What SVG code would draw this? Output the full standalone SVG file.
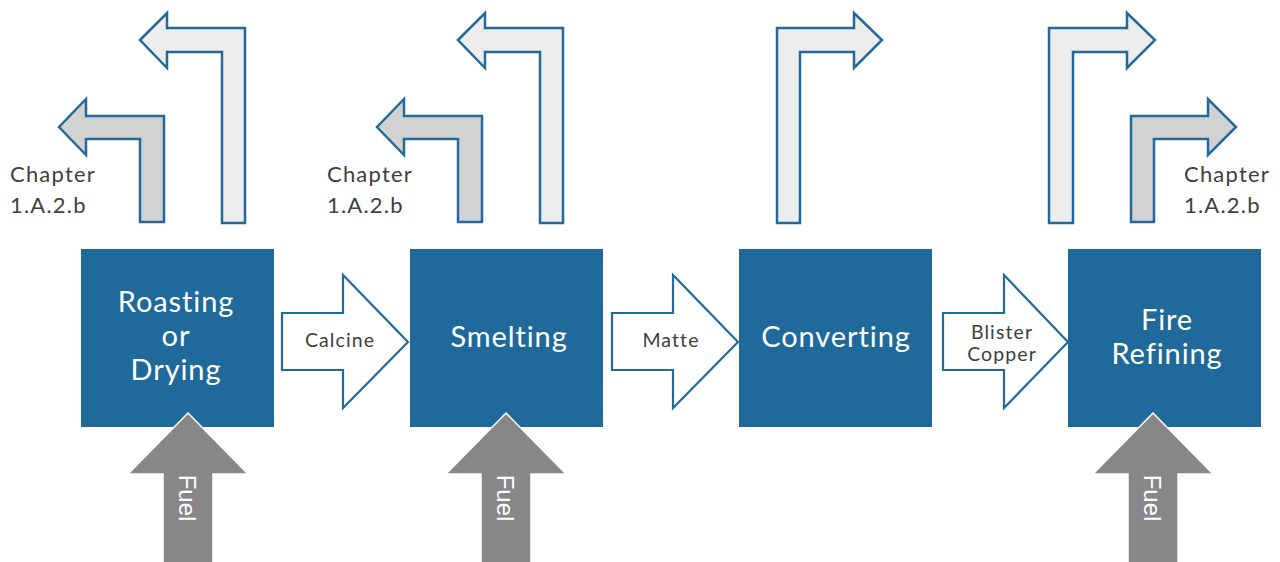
<svg xmlns="http://www.w3.org/2000/svg" width="1280" height="562" viewBox="0 0 1280 562">
<style>
text{font-variant-ligatures:none;font-feature-settings:"liga" 0}
.box{fill:#1F6A9A}
.boxt{fill:#FFFFFF;font-family:Lato,"Noto Sans",sans-serif;font-size:29px;letter-spacing:0.9px;text-anchor:middle}
.lt{fill:#EDEDED;stroke:#236A9A;stroke-width:2.5;stroke-linejoin:miter}
.dk{fill:#D2D2D2;stroke:#236A9A;stroke-width:2.5;stroke-linejoin:miter}
.flow{fill:#FFFFFF;stroke:#236A9A;stroke-width:2.2}
.flowt{fill:#404040;font-family:Lato,"Noto Sans",sans-serif;font-size:19.5px;letter-spacing:1.1px;text-anchor:middle}
.ch{fill:#404040;font-family:Lato,"Noto Sans",sans-serif;font-size:22px;letter-spacing:1.2px}
.fuel{fill:#878787;stroke:#FFFFFF;stroke-width:1.5}
.fuelt{fill:#FFFFFF;font-family:"Liberation Sans",Arial,sans-serif;font-size:24px;text-anchor:middle}
</style>
<rect width="1280" height="562" fill="#FFFFFF"/>

<g id="connectors">
  <path class="lt" d="M140,40 L167,13 L167,28 L245,28 L245,223 L222,223 L222,52 L167,52 L167,68 Z"/>
  <path class="dk" d="M59,127 L86,99 L86,116 L164,116 L164,222 L140,222 L140,139 L86,139 L86,155 Z"/>
  <path class="lt" d="M458,40 L485,13 L485,28 L563,28 L563,223 L540,223 L540,52 L485,52 L485,68 Z"/>
  <path class="dk" d="M377,127 L404,99 L404,116 L482,116 L482,222 L458,222 L458,139 L404,139 L404,155 Z"/>
  <path class="lt" d="M777,223 L777,28 L854,28 L854,13 L882,40 L854,68 L854,52 L800,52 L800,223 Z"/>
  <path class="lt" d="M1049,223 L1049,28 L1127,28 L1127,13 L1155,40 L1127,68 L1127,52 L1073,52 L1073,223 Z"/>
  <path class="dk" d="M1131,222 L1131,116 L1208,116 L1208,99 L1236,127 L1208,155 L1208,139 L1154,139 L1154,222 Z"/>

  <path class="flow" d="M282,313 L343,313 L343,275 L408,342 L343,408 L343,370 L282,370 Z"/>
  <path class="flow" d="M612,313 L673,313 L673,275 L738,342 L673,408 L673,370 L612,370 Z"/>
  <path class="flow" d="M943,313 L1004,313 L1004,275 L1068,342 L1004,408 L1004,370 L943,370 Z"/>
</g>

<g id="labels">
  <text class="ch" x="10" y="182">Chapter</text>
  <text class="ch" x="10" y="213">1.A.2.b</text>
  <text class="ch" x="327" y="182">Chapter</text>
  <text class="ch" x="327" y="213">1.A.2.b</text>
  <text class="ch" x="1184" y="182">Chapter</text>
  <text class="ch" x="1184" y="213">1.A.2.b</text>
  <text class="flowt" x="340" y="347">Calcine</text>
  <text class="flowt" x="671" y="347">Matte</text>
  <text class="flowt" x="1002" y="339">Blister</text>
  <text class="flowt" x="1002" y="361">Copper</text>
</g>

<g id="roasting">
  <rect class="box" x="81" y="249" width="193" height="178"/>
  <text class="boxt" x="176" y="312">Roasting</text>
  <text class="boxt" x="176" y="346">or</text>
  <text class="boxt" x="176" y="380">Drying</text>
</g>
<g id="smelting">
  <rect class="box" x="410" y="249" width="193" height="178"/>
  <text class="boxt" x="509" y="347">Smelting</text>
</g>
<g id="converting">
  <rect class="box" x="739" y="249" width="193" height="178"/>
  <text class="boxt" x="836" y="347">Converting</text>
</g>
<g id="fire-refining">
  <rect class="box" x="1068" y="249" width="193" height="178"/>
  <text class="boxt" x="1167" y="330">Fire</text>
  <text class="boxt" x="1167" y="364">Refining</text>
</g>

<g id="fuel1">
  <path class="fuel" d="M188,413 L248,474 L213,474 L213,563 L163,563 L163,474 L128,474 Z"/>
  <text class="fuelt" transform="translate(179,498) rotate(90)">Fuel</text>
</g>
<g id="fuel2">
  <path class="fuel" d="M506,413 L566,474 L531,474 L531,563 L481,563 L481,474 L446,474 Z"/>
  <text class="fuelt" transform="translate(497,498) rotate(90)">Fuel</text>
</g>
<g id="fuel3">
  <path class="fuel" d="M1153,413 L1213,474 L1178,474 L1178,563 L1128,563 L1128,474 L1093,474 Z"/>
  <text class="fuelt" transform="translate(1144,498) rotate(90)">Fuel</text>
</g>
</svg>
